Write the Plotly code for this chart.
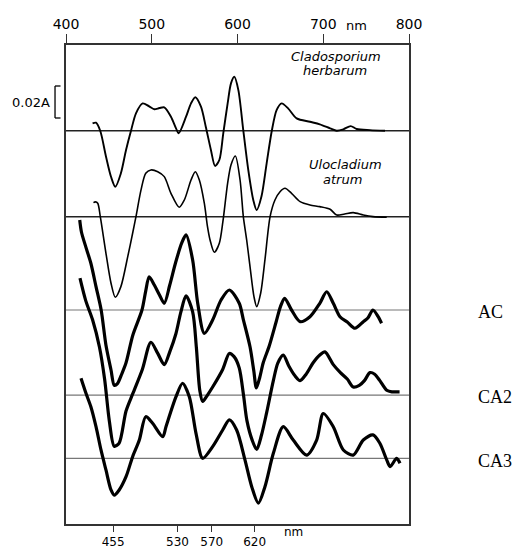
import plotly.graph_objects as go

# wavelengths (nm) and difference absorbance (units of 0.001 A)
clad_nm = [431, 435, 440, 446.6, 452.5, 457.5, 464, 470, 475.8, 481.6, 489.4, 497, 503, 509, 514.6,
           522.4, 528.3, 531.4, 540, 545.8, 550.8, 557.4, 563, 569, 573.8, 578.8, 583.4, 588.5, 592.4,
           596.3, 601, 606.8, 612.6, 618.4, 622.4, 628, 634, 640, 645.7, 651.5, 659, 669, 684.5, 696,
           708, 715.7, 723.4, 732, 739, 754.5, 772]
clad_val = [4.6, 5.0, -0.2, -16.1, -28.8, -35, -26.6, -12, 0, 10.9, 17.1, 15.2, 13.4, 14.2, 14.6,
            8.75, 1.5, -1.6, 8.75, 17.1, 20.9, 15, 2.5, -12, -22, -18.3, -1.6, 17.1, 29.6,
            33.7, 25.4, 0, -24.6, -43.3, -49.6, -41, -20.4, 0, 13, 17.1, 14, 7.75, 5.6, 4,
            1.5, 0, 0.9, 2.9, 1.1, 0.4, 0]

ulo_nm = [432, 434.3, 437, 440, 446.6, 452.5, 457.5, 464, 472, 477.7, 481.6, 487.5, 493, 499, 507,
          514.6, 522.4, 532, 538, 545.8, 550.8, 555.5, 561.3, 565, 568, 573, 578.8, 583, 588.5, 592.4,
          597.5, 603, 606.8, 610.7, 614.6, 619.2, 622.4, 627, 632, 638, 643.7, 649.6, 655.4, 663, 673,
          684.5, 696, 708, 715.7, 725, 735, 746.7, 758, 774]
ulo_val = [8.75, 9.2, 8.4, 0, -22.9, -41.6, -50.4, -43.75, -25, -10.4, 0, 16.7, 27.1, 29.2, 28.1,
           25, 14.6, 5.9, 10.4, 22.9, 28.1, 22.9, 8.4, -6.25, -14.6, -22.3, -16.6, -3, 20.9, 32.3,
           37.9, 22.9, 0, -14.6, -31.25, -50, -56.25, -47.9, -27, 0, 10.4, 15.6, 17.7, 14.6, 9.4,
           7.3, 6.25, 4.6, 1, 1.7, 2.5, 1, 0, -0.4]

ac_nm = [416, 418, 423, 429, 435, 441, 446.6, 452.5, 456.3, 460, 465, 470, 478, 488.6, 493, 497,
         503, 509, 514.6, 521, 528, 535, 540, 547.7, 553.6, 561.3, 571, 580.8, 590.5, 602, 606.8,
         614.6, 619, 622, 626, 630, 637, 645, 650, 655, 663, 673, 684.5, 696, 704, 711.7, 719.5,
         728, 737, 746.7, 752, 758, 764, 768]
ac_val = [56.25, 48.75, 39.6, 29.2, 14.6, 0, -22, -37.5, -47, -46, -40, -33, -15.6, 0, 12, 20.8,
          15.6, 9.4, 4.2, 15.6, 30, 41.9, 46.9, 31.25, 4.2, -14.6, -6.25, 6.25, 12.5, 4.2, -6,
          -23, -38, -48.75, -42, -33, -22.5, -7.5, 2, 7.3, 0, -7.3, -4.2, 4.2, 11.4, 4.2, -4.2,
          -7.5, -11.4, -7.3, -5, 0, -4.2, -8.3]

ca2_nm = [416.3, 423, 431, 439, 445, 450.5, 456.3, 462, 470, 478, 489, 499, 507, 514.6, 521, 528,
          534, 540, 547.7, 552, 556, 559.4, 565, 571, 582.7, 590.5, 596, 602, 607, 611, 617, 622.4,
          628, 634, 641.8, 647, 653.4, 660, 667, 673, 680, 688, 696, 702, 711.7, 720, 728, 735,
          742, 748, 754.5, 760, 766, 774, 780, 786, 789]
ca2_val = [73, 59, 47, 30, 10, -16, -32, -30, -10, 1, 16, 33, 26, 19, 27, 38,
           52, 62, 52, 30, 3, -4, 0, 5, 16, 26, 24, 17, 0, -16, -28, -34,
           -25, -11, 9, 20, 25, 18, 12, 9, 13, 20, 25, 27, 19, 14, 10, 5,
           6, 9, 14, 13, 9, 3, 2, 2, 2]

ca3_nm = [417.5, 423.3, 429, 435, 440.8, 446.6, 452.5, 456.3, 462, 470, 477.7, 485.5, 493, 501,
          512.8, 516.6, 528.3, 536, 543.8, 551.6, 559.4, 571, 582.7, 590.5, 599, 608.7, 616.6,
          624.3, 632, 641.8, 653.4, 665, 680.6, 692.3, 700, 711.7, 723.4, 735, 746.7, 758, 766,
          774, 778, 785.6, 789.5]
ca3_val = [50, 40.6, 32.2, 19.75, 5.2, -7.3, -19.8, -23, -19.8, -11.5, 1, 11.4, 26, 21.9,
           13.5, 19.75, 38.5, 46.9, 38.5, 15.6, 0, 7.3, 17.7, 24, 17.7, -1, -17.75,
           -28, -17.75, 3.1, 19.75, 11.4, 2, 11.4, 28, 19.75, 5.2, 2, 11.4, 14.6, 9.4,
           -1, -5.2, 0, -3.1]

series_names = ["Cladosporium herbarum", "Ulocladium atrum", "AC", "CA2", "CA3"]
# vertical offsets of each spectrum's baseline (units of 0.001 A)
offsets = [245.8, 192.1, 133.75, 80.6, 41.06]

top_ticks = [400, 500, 600, 700, 800]
bottom_ticks = [455, 530, 570, 620]
scale_bar = 20  # 0.02 A

series = [(clad_nm, clad_val), (ulo_nm, ulo_val), (ac_nm, ac_val), (ca2_nm, ca2_val), (ca3_nm, ca3_val)]
widths = [1.9, 1.6, 3.2, 3.2, 3.2]

fig = go.Figure()
for (xs, ys), off, name, w in zip(series, offsets, series_names, widths):
    fig.add_trace(go.Scatter(x=xs, y=[v + off for v in ys], mode="lines", name=name,
                             line=dict(color="black", width=w, shape="spline", smoothing=0.8),
                             showlegend=False, xaxis="x"))
# dummy trace for top axis
fig.add_trace(go.Scatter(x=[400, 800], y=[0, 0], mode="lines", line=dict(width=0),
                         xaxis="x2", showlegend=False, hoverinfo="skip"))

shapes = []
base_colors = ["#222", "#222", "#777", "#777", "#777"]
base_widths = [1.5, 1.5, 1.2, 1.2, 1.2]
for off, c, w in zip(offsets, base_colors, base_widths):
    shapes.append(dict(type="line", xref="paper", yref="y", x0=0, x1=1, y0=off, y1=off,
                       line=dict(color=c, width=w), layer="below"))
# 0.02 A scale bracket
bar_top = 273.75
bar_bot = bar_top - scale_bar
bx0, bx1 = -0.032, -0.016
shapes += [
    dict(type="line", xref="paper", yref="y", x0=bx0, x1=bx0, y0=bar_bot, y1=bar_top, line=dict(color="black", width=1.3)),
    dict(type="line", xref="paper", yref="y", x0=bx0, x1=bx1, y0=bar_top, y1=bar_top, line=dict(color="black", width=1.3)),
    dict(type="line", xref="paper", yref="y", x0=bx0, x1=bx1, y0=bar_bot, y1=bar_bot, line=dict(color="black", width=1.3)),
]

sans = "DejaVu Sans"
annotations = [
    dict(text="0.02A", xref="paper", yref="y", x=-0.04, y=(bar_top + bar_bot) / 2, xanchor="right",
         yanchor="middle", showarrow=False, font=dict(family=sans, size=13, color="black")),
    dict(text="nm", xref="x", yref="paper", x=739, y=1.06, showarrow=False,
         font=dict(family=sans, size=13, color="black")),
    dict(text="nm", xref="x", yref="paper", x=665, y=-0.036, showarrow=False,
         font=dict(family=sans, size=12, color="black")),
    dict(text="<i>Cladosporium</i>", xref="x", yref="y", x=715, y=291.9, showarrow=False,
         font=dict(family=sans, size=13, color="black")),
    dict(text="<i>herbarum</i>", xref="x", yref="y", x=714, y=283.2, showarrow=False,
         font=dict(family=sans, size=13, color="black")),
    dict(text="<i>Ulocladium</i>", xref="x", yref="y", x=725.5, y=224.4, showarrow=False,
         font=dict(family=sans, size=13, color="black")),
    dict(text="<i>atrum</i>", xref="x", yref="y", x=722, y=215.6, showarrow=False,
         font=dict(family=sans, size=13, color="black")),
]
for name, off in zip(series_names[2:], offsets[2:]):
    annotations.append(dict(text=name, xref="paper", yref="y", x=1.195, y=off - 1.5, xanchor="left",
                            yanchor="middle", showarrow=False,
                            font=dict(family="Liberation Serif", size=18, color="black")))

# the page body adds an 8px margin, so the figure is drawn 8px smaller/offset
fig.update_layout(
    width=519, height=542,
    margin=dict(l=58, r=118, t=37, b=26, pad=0),
    plot_bgcolor="white", paper_bgcolor="white",
    xaxis=dict(range=[400, 800], tickvals=bottom_ticks, ticktext=[str(t) for t in bottom_ticks],
               ticks="outside", ticklen=6, tickwidth=1.3, tickcolor="#333", automargin=False,
               showline=True, linecolor="#333", linewidth=2, showgrid=False, zeroline=False,
               tickfont=dict(family=sans, size=12, color="black")),
    xaxis2=dict(range=[400, 800], overlaying="x", side="top", tickvals=top_ticks,
                ticks="outside", ticklen=9, tickwidth=1.3, tickcolor="#333", automargin=False,
                showline=True, linecolor="#333", linewidth=1.6, showgrid=False, zeroline=False,
                tickfont=dict(family=sans, size=14, color="black")),
    yaxis=dict(range=[0, 299.375], showticklabels=False, ticks="", showgrid=False, zeroline=False,
               showline=True, mirror=True, linecolor="#333", linewidth=1.6, automargin=False),
    shapes=shapes,
    annotations=annotations,
)

fig.write_html("out.html")
